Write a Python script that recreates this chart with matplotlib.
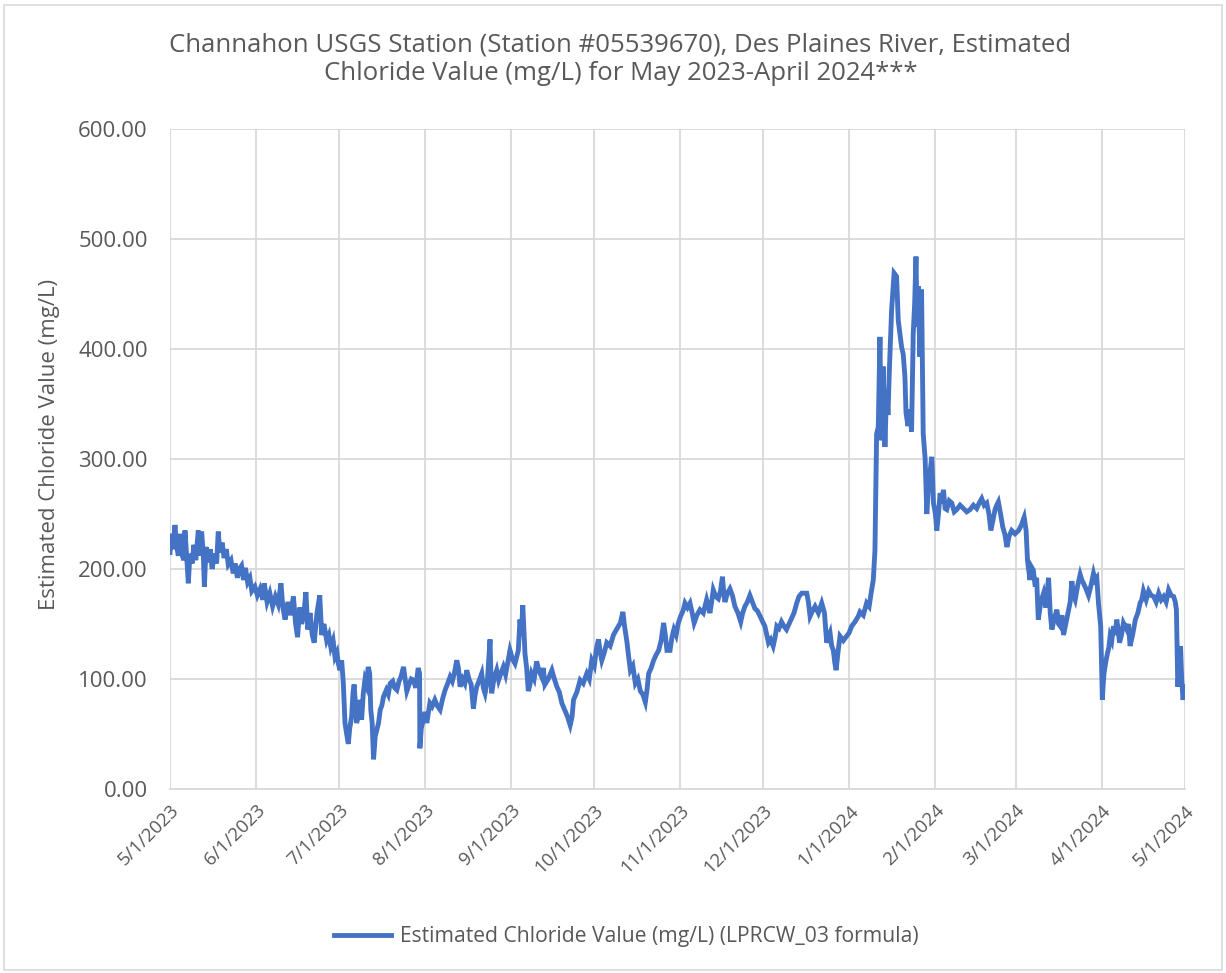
import matplotlib
matplotlib.use("Agg")
import matplotlib.pyplot as plt
from matplotlib.patches import Rectangle
import pandas as pd
import numpy as np

# ---------------- data ----------------
start_date = "2023-05-01"
day_offsets = [
    0, 0.5, 1, 1.8, 2.3, 3, 3.5, 4.2, 5, 5.4, 6, 6.6, 7.2, 8, 8.6, 9.3, 10.2, 10.8, 11.4, 12, 12.4, 13, 13.8,
    14.5, 15.2, 16, 16.8, 17.4, 18, 18.8, 19.5, 20.3, 21, 22, 22.8, 23.5, 24.3, 25, 25.8, 26.5, 27.2, 28, 28.8,
    29.5, 30.6,
    31.5, 32.5, 33.5, 34, 35, 36, 37, 38, 39, 40, 40.7, 41.5, 42.5, 43.5, 44.5, 45.3, 46, 46.8, 47.5, 48.3, 49,
    49.7, 50.5, 51.3, 52, 53, 54, 54.7, 55.5, 56.5, 57.3, 58, 58.8, 59.5, 60.2, 60.7, 61.3, 61.9,
    62.5, 63.1, 63.7, 64.3, 64.8, 65.5, 66, 66.4, 66.9, 67.3, 67.8, 68.5, 69.1, 69.7, 70.3, 70.8, 71.5, 72,
    72.4, 72.9, 73.4, 74, 74.6, 75.2, 75.8, 76.4, 77, 78, 78.7, 79.4, 80.3, 81, 81.8, 82.6, 83.3, 84.2, 84.8,
    85.4, 86.2, 87, 87.8, 88.6, 89.5, 90, 90.1, 90.6, 91.3, 92, 92.6, 93.7, 94.5, 95.5, 96.3, 97.4, 98.3, 99.2,
    100, 101, 101.8, 102.6, 103.4, 104, 104.6, 105.5, 106.3, 107, 107.8, 108.6, 109.4, 110, 110.6, 111.4,
    112.4, 113, 113.6, 114.5, 115.4, 115.8, 116, 116.8, 117.8, 118.5, 119.3, 120.2, 121, 121.8, 122.6,
    123.5, 124.4, 125.6, 126.2, 126.7, 127.2, 127.6, 128, 128.6, 129.2, 129.8, 130.4, 131.3, 132.2, 133, 134,
    134.6, 135.2, 136.4, 137.7, 138.6, 139.5, 140.4, 141.3, 142.3, 143.3, 143.8, 144.3, 145, 145.5, 146.7,
    147.9, 149, 150.3, 151.2, 152.1, 153, 153.8, 154.5, 155.1, 155.7, 156.6, 157.5, 158.7, 159.9, 161, 162.4,
    163.3, 163.8, 164.8, 165.4, 166, 166.9, 167.8, 168.7, 169.6, 170.5, 171.4, 172, 172.6, 173.5, 174.4,
    175.3, 176.2, 177.1, 178, 178.6, 179.2, 180.3, 181, 181.7, 182.5, 183.2, 184.1,
    185, 185.7, 186.6, 187.5, 188.3, 189, 190, 191.1, 192.3, 193.5, 194.7, 195.3, 195.9, 196.8, 197.7, 198.5,
    199.2, 199.7, 200.1, 201, 201.9, 202.8, 203.7, 204.8, 205.8, 206.5, 207.3, 208.2, 209.1, 210, 210.9,
    211.8, 212.8, 213.7, 214.5, 215.2, 215.8, 216.6, 217.5, 218.2, 218.8, 219.6, 220.5, 221.4, 222.3, 223.2,
    224.1, 225, 226, 226.8, 227.8, 228.7, 229.6, 230.2, 230.8, 231.7, 232.6, 233.8, 235, 236, 236.8, 237.4,
    238, 238.6, 239.2, 239.7, 240.2, 240.9, 241.6, 242.8, 244, 244.9, 245.8, 247, 248.2,
    248.8, 250, 251.2, 252.1, 253, 253.6, 254.2, 254.8, 255.4, 256, 256.3, 256.6, 257.2, 257.8, 258.4, 258.9,
    259.4, 260.2, 261.1, 262, 262.6, 263.8, 264.4, 265, 265.4, 266.1, 266.8, 267.4, 268, 268.5, 269, 269.4,
    269.8, 270.4, 271, 271.6, 272.3, 272.9, 273.5, 274, 274.7, 275.3, 276, 276.5, 277.1, 277.7, 278.3, 278.9,
    279.5, 280.1, 281, 281.9, 282.8, 283.7, 284.9, 286.1, 287.3, 288.5, 289.7, 290.9, 291.8, 292.7, 293.6,
    294.5, 295.3, 296, 296.8, 297.5, 298.1, 298.7, 299.5, 300.3, 301, 301.8, 302.6, 303.5, 304.7, 306, 307,
    308, 308.7, 309.2, 310.1, 310.6, 311.3, 312, 312.5, 313.1, 314, 315, 315.8, 316.8, 317.4, 318, 318.9,
    319.8, 320.4, 321, 321.6, 322.2, 323, 324, 324.6, 325.2, 325.8, 326.4, 327.3, 328.2, 328.8, 329.4, 330.3,
    331.2, 332.1, 333, 333.6, 334.2, 334.8, 335.6, 336.2, 336.5, 336.8, 337.4, 338, 338.5, 339, 339.6, 340.2,
    340.8, 341.4, 341.9, 342.4, 343.1, 343.8, 344.4, 345, 345.6, 346.2, 347.1, 348.1, 349, 349.8, 350.4, 351,
    352, 352.9, 353.8, 354.7, 355.6, 356.5, 357.4, 358.3, 359.2, 360.1, 361, 361.9, 362.5, 362.9, 363.4,
    363.9, 364.4, 364.8, 365.3, 365.8,
]
chloride = [
    215, 232, 218, 240, 222, 212, 232, 214, 208, 235, 212, 187, 214, 205, 222, 208, 235, 212, 234, 214, 184, 220, 206,
    218, 200, 214, 205, 234, 215, 224, 210, 218, 204, 208, 196, 205, 192, 200, 203, 190, 201, 188, 192,
    180, 184,
    176, 182, 172, 187, 170, 178, 166, 175, 168, 187, 165, 154, 170, 158, 175, 150, 138, 165, 150, 160, 179,
    145, 160, 140, 133, 160, 176, 140, 150, 135, 140, 129, 135, 120, 124, 114, 108, 117,
    96, 60, 50, 41, 55, 66, 88, 95, 75, 60, 65, 81, 63, 87, 99, 95, 111, 105,
    72, 60, 27, 48, 54, 60, 72, 76, 84, 90, 86, 96, 98, 92, 90, 98, 102, 111, 100,
    89, 95, 100, 99, 92, 110, 105, 37, 55, 63, 70, 60, 78, 75, 81, 76, 72, 82, 90,
    95, 102, 98, 106, 117, 110, 93, 100, 96, 108, 100, 95, 73, 85, 93, 98,
    105, 92, 87, 100, 136, 95, 87, 100, 108, 99, 105, 111, 104, 115, 126,
    118, 114, 126, 154, 140, 167, 145, 123, 110, 89, 95, 105, 100, 116, 108, 102,
    110, 95, 100, 108, 100, 93, 88, 78, 72, 66, 62, 58, 66, 81, 88,
    99, 96, 105, 100, 117, 112, 128, 136, 125, 117, 124, 133, 130, 140, 145, 151,
    161, 150, 133, 120, 108, 112, 96, 100, 89, 86, 79, 90, 105, 110, 117,
    122, 126, 135, 151, 140, 126, 126, 138, 145, 140, 150, 157,
    162, 169, 165, 169, 160, 151, 158, 163, 160, 172, 160, 170, 181, 175, 173, 180,
    193, 178, 170, 178, 182, 176, 166, 160, 152, 160, 166, 170, 176, 170, 164,
    162, 157, 152, 148, 140, 133, 136, 130, 138, 148, 146, 152, 148, 145, 150,
    155, 160, 169, 175, 178, 178, 178, 170, 157, 162, 166, 160, 169, 160, 133, 138,
    142, 130, 126, 115, 108, 125, 139, 135, 139, 142, 148, 152, 157,
    161, 158, 169, 166, 181, 190, 217, 323, 329, 411, 350, 317, 384, 311, 363, 340,
    381, 435, 469, 466, 426, 402, 395, 375, 342, 330, 345, 325, 414, 440, 484, 420,
    457, 393, 454, 323, 300, 250, 275, 287, 302, 260, 250, 235, 250, 269, 260, 272,
    255, 254, 262, 260, 252, 254, 258, 255, 252, 254, 258, 255, 260, 264, 258,
    260, 250, 235, 245, 254, 258, 261, 250, 238, 232, 220, 230, 235, 232, 235, 240,
    247, 235, 208, 190, 202, 199, 184, 192, 154, 170, 178, 165, 192, 160, 145, 155,
    163, 150, 148, 158, 140, 150, 163, 170, 189, 176, 172, 185, 195, 190, 187, 182,
    176, 185, 196, 190, 192, 169, 148, 81, 95, 105, 115, 123, 128, 139, 135, 148,
    140, 154, 145, 133, 140, 151, 148, 145, 150, 130, 140, 154, 160, 169, 172, 180,
    172, 180, 176, 175, 170, 178, 172, 175, 170, 181, 176, 175, 170, 163, 93,
    110, 130, 100, 81, 93,
]
tick_labels = ["5/1/2023", "6/1/2023", "7/1/2023", "8/1/2023", "9/1/2023", "10/1/2023",
               "11/1/2023", "12/1/2023", "1/1/2024", "2/1/2024", "3/1/2024", "4/1/2024", "5/1/2024"]
y_ticks = [0, 100, 200, 300, 400, 500, 600]

title_text = ("Channahon USGS Station (Station #05539670), Des Plaines River, Estimated\n"
              "Chloride Value (mg/L) for May 2023-April 2024***")
y_label = "Estimated Chloride Value (mg/L)"
series_name = "Estimated Chloride Value (mg/L) (LPRCW_03 formula)"

# ---------------- plotting ----------------
FONT = ["Open Sans", "DejaVu Sans"]
plt.rcParams["font.family"] = FONT
text_color = "#595959"
grid_color = "#d9d9d9"
line_color = "#4472C4"

fig = plt.figure(figsize=(12.26, 9.73), dpi=100)
fig.patches.append(Rectangle((0.003, 0.003), 0.994, 0.992, transform=fig.transFigure,
                             fill=False, edgecolor=grid_color, linewidth=1.2))
ax = fig.add_axes([170/1226, 1 - 789/973, (1185 - 170)/1226, (789 - 129)/973])

dates = pd.Timestamp(start_date) + pd.to_timedelta(np.array(day_offsets), unit="D")
ax.plot(dates, chloride, color=line_color, linewidth=3.5, solid_joinstyle="miter",
        label=series_name)

tick_dates = pd.to_datetime(tick_labels, format="%m/%d/%Y")
ax.set_xlim(tick_dates[0], tick_dates[-1])
ax.set_xticks(tick_dates)
ax.set_xticklabels(tick_labels, rotation=45, ha="right", rotation_mode="anchor",
                   fontsize=13.5, color=text_color)
ax.set_ylim(0, 600)
ax.set_yticks(y_ticks)
ax.set_yticklabels([f"{v:.2f}" for v in y_ticks], fontsize=16, color=text_color)
ax.tick_params(axis="both", length=0)
ax.tick_params(axis="y", pad=16)
ax.tick_params(axis="x", pad=9)

ax.grid(True, color=grid_color, linewidth=1.3)
ax.set_axisbelow(True)
for s in ["top", "right", "left"]:
    ax.spines[s].set_visible(False)
ax.spines["bottom"].set_color(grid_color)
ax.spines["bottom"].set_linewidth(1.3)

ax.set_ylabel(y_label, fontsize=16, color=text_color)
ax.yaxis.set_label_coords(-0.108, 0.522)

fig.text(0.506, 0.967, title_text, ha="center", va="top", fontsize=18.5,
         color=text_color, linespacing=1.2)

leg = fig.legend(loc="center", bbox_to_anchor=(0.511, 0.037), frameon=False,
                 fontsize=15.2, handlelength=2.7, handletextpad=0.4)
for t in leg.get_texts():
    t.set_color(text_color)

fig.savefig("out.png", dpi=100)
